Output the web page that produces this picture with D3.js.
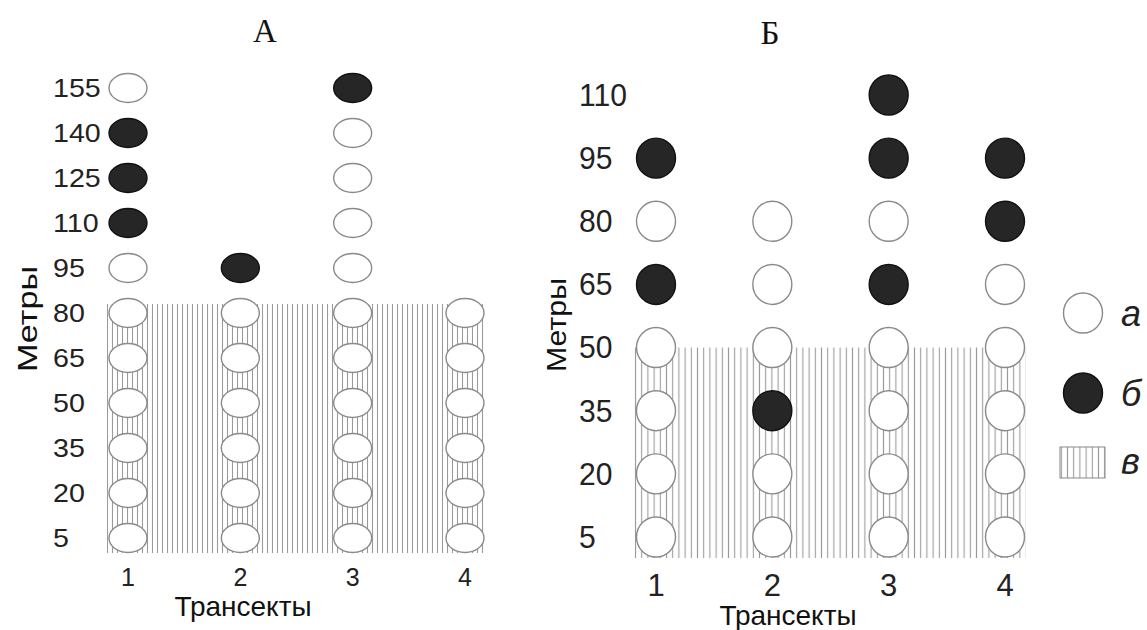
<!DOCTYPE html>
<html>
<head>
<meta charset="utf-8">
<script src="https://cdn.jsdelivr.net/npm/d3@7"></script>
<style>
  html, body { margin: 0; padding: 0; background: #fff; }
  svg { display: block; }
</style>
</head>
<body>
<div id="chart"></div>
<script>
// ── Data ──────────────────────────────────────────────────────────────────────
const transects = [1, 2, 3, 4];

// Panel А: depths (m), and state per transect: "o" = а (open), "f" = б (filled), "" = none
const depthsA = [155, 140, 125, 110, 95, 80, 65, 50, 35, 20, 5];
const a_t1 = ["o", "f", "f", "f", "o", "o", "o", "o", "o", "o", "o"];
const a_t2 = ["", "", "", "", "f", "o", "o", "o", "o", "o", "o"];
const a_t3 = ["f", "o", "o", "o", "o", "o", "o", "o", "o", "o", "o"];
const a_t4 = ["", "", "", "", "", "o", "o", "o", "o", "o", "o"];
const hatchTopA = 83; // в – upper limit of the zone, m

// Panel Б
const depthsB = [110, 95, 80, 65, 50, 35, 20, 5];
const b_t1 = ["", "f", "o", "f", "o", "o", "o", "o"];
const b_t2 = ["", "", "o", "o", "o", "f", "o", "o"];
const b_t3 = ["f", "f", "o", "f", "o", "o", "o", "o"];
const b_t4 = ["", "f", "f", "o", "o", "o", "o", "o"];
const hatchTopB = 50;

const legendLabels = ["а", "б", "в"];

// ── Drawing ───────────────────────────────────────────────────────────────────
const W = 1147, H = 630;
const sans = "'Liberation Sans', Arial, sans-serif";
const serif = "'Liberation Serif', 'Times New Roman', serif";

const svg = d3.select("#chart").append("svg").attr("width", W).attr("height", H);
const defs = svg.append("defs");

function hatchPattern(id, step) {
  const p = defs.append("pattern").attr("id", id)
    .attr("patternUnits", "userSpaceOnUse").attr("width", step).attr("height", 10);
  p.append("line").attr("x1", step / 2).attr("x2", step / 2).attr("y1", 0).attr("y2", 10)
    .attr("stroke", "#9a9a9a").attr("stroke-width", 1.1);
}
hatchPattern("hatchA", 5);
hatchPattern("hatchB", 6.2);

function panel(opt) {
  const x = d3.scaleLinear().domain([1, 4]).range(opt.xRange);
  const y = d3.scaleLinear().domain(opt.yDomain).range(opt.yRange);
  const g = svg.append("g");

  // hatched zone
  g.append("rect")
    .attr("x", x(1) - opt.rx - 2).attr("y", y(opt.hatchTop))
    .attr("width", x(4) - x(1) + 2 * opt.rx + 3)
    .attr("height", y(0) - y(opt.hatchTop))
    .attr("fill", `url(#${opt.pattern})`);

  // y tick labels (slightly stretched sideways like the original)
  g.selectAll(".ytick").data(opt.depths).join("text")
    .attr("transform", (d) => `translate(${opt.tickX},${y(d)}) scale(${opt.tickStretch},1)`)
    .attr("dominant-baseline", "central")
    .attr("font-family", sans).attr("font-size", opt.tickSize).attr("fill", "#222")
    .text((d) => d);

  // x tick labels
  g.selectAll(".xtick").data(transects).join("text")
    .attr("x", (d) => x(d)).attr("y", opt.xTickY)
    .attr("text-anchor", "middle").attr("dominant-baseline", "central")
    .attr("font-family", sans).attr("font-size", opt.xTickSize).attr("fill", "#222")
    .text((d) => d);

  // markers
  const pts = [];
  opt.series.forEach((s, i) => s.forEach((v, j) => {
    if (v) pts.push({ t: transects[i], depth: opt.depths[j], v });
  }));
  g.selectAll(".pt").data(pts).join("ellipse")
    .attr("cx", (d) => x(d.t)).attr("cy", (d) => y(d.depth))
    .attr("rx", opt.rx).attr("ry", opt.ry)
    .attr("fill", (d) => d.v === "f" ? "#262626" : "#fff")
    .attr("stroke", (d) => d.v === "f" ? "#111" : "#8a8a8a")
    .attr("stroke-width", 1.4);

  // axis titles
  g.append("text")
    .attr("x", opt.xTitle[0]).attr("y", opt.xTitle[1])
    .attr("text-anchor", "middle").attr("dominant-baseline", "central")
    .attr("font-family", sans).attr("font-size", 28).attr("fill", "#111")
    .text("Трансекты");
  g.append("text")
    .attr("transform", `translate(${opt.yTitle[0]},${opt.yTitle[1]}) rotate(-90)`)
    .attr("text-anchor", "middle").attr("dominant-baseline", "central")
    .attr("font-family", sans).attr("font-size", 28).attr("fill", "#111")
    .attr("textLength", opt.yTitleLen).attr("lengthAdjust", "spacingAndGlyphs")
    .text("Метры");

  // panel letter
  g.append("text")
    .attr("x", opt.title[0]).attr("y", opt.title[1])
    .attr("text-anchor", "middle")
    .attr("font-family", serif).attr("font-size", 33).attr("fill", "#111")
    .text(opt.label);
}

panel({
  label: "А", title: [265, 42],
  depths: depthsA, series: [a_t1, a_t2, a_t3, a_t4], hatchTop: hatchTopA,
  xRange: [128, 465], yDomain: [5, 155], yRange: [538, 88],
  rx: 19, ry: 14.5, pattern: "hatchA",
  tickX: 53, tickSize: 26, tickStretch: 1.1, xTickY: 577, xTickSize: 25,
  xTitle: [243, 606], yTitle: [27, 319], yTitleLen: 106
});

panel({
  label: "Б", title: [770, 44],
  depths: depthsB, series: [b_t1, b_t2, b_t3, b_t4], hatchTop: hatchTopB,
  xRange: [656, 1005], yDomain: [5, 110], yRange: [537, 95],
  rx: 19.5, ry: 20, pattern: "hatchB",
  tickX: 579, tickSize: 32, tickStretch: 0.94, xTickY: 585, xTickSize: 31,
  xTitle: [788, 615], yTitle: [556, 325], yTitleLen: 94
});

// ── Legend ───────────────────────────────────────────────────────────────────
const lg = svg.append("g").attr("transform", "translate(1083, 313)");
const rowGap = 80;
lg.append("ellipse").attr("cx", 0).attr("cy", 0).attr("rx", 19.5).attr("ry", 20)
  .attr("fill", "#fff").attr("stroke", "#8a8a8a").attr("stroke-width", 1.4);
lg.append("ellipse").attr("cx", 0).attr("cy", rowGap).attr("rx", 19.5).attr("ry", 20)
  .attr("fill", "#262626").attr("stroke", "#111").attr("stroke-width", 1.4);
lg.append("rect").attr("x", -23).attr("y", rowGap * 2 - 26).attr("width", 45).attr("height", 31)
  .attr("fill", "url(#hatchB)").attr("stroke", "#8a8a8a").attr("stroke-width", 1);
lg.selectAll(".lab").data(legendLabels).join("text")
  .attr("x", 38).attr("y", (d, i) => i * rowGap - (i === 2 ? 12 : 0))
  .attr("dominant-baseline", "central")
  .attr("font-family", sans).attr("font-style", "italic").attr("font-size", 36).attr("fill", "#222")
  .text((d) => d);
</script>
</body>
</html>
